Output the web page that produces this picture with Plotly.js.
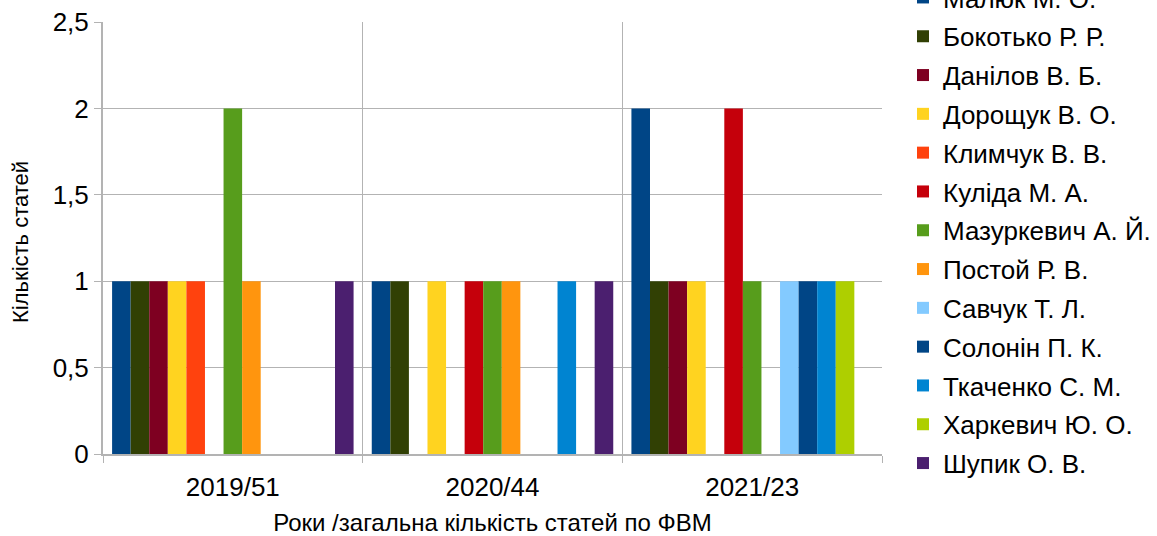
<!DOCTYPE html>
<html>
<head>
<meta charset="utf-8">
<script src="https://cdn.plot.ly/plotly-3.0.1.min.js"></script>
<style>html,body{margin:0;padding:0;background:#fff;}#chart{width:1157px;height:536px;}</style>
</head>
<body>
<div id="chart"></div>
<script>
const categories = ["2019/51", "2020/44", "2021/23"];
const seriesNames = ["Малюк М. О.", "Бокотько Р. Р.", "Данілов В. Б.", "Дорощук В. О.", "Климчук В. В.", "Куліда М. А.", "Мазуркевич А. Й.", "Постой Р. В.", "Савчук Т. Л.", "Солонін П. К.", "Ткаченко С. М.", "Харкевич Ю. О.", "Шупик О. В."];
const malyuk      = [1, 1, 2];
const bokotko     = [1, 1, 1];
const danilov     = [1, 0, 1];
const doroshchuk  = [1, 1, 1];
const klymchuk    = [1, 0, 0];
const kulida      = [0, 1, 2];
const mazurkevych = [2, 1, 1];
const postoi      = [1, 1, 0];
const savchuk     = [0, 0, 1];
const solonin     = [0, 0, 1];
const tkachenko   = [0, 1, 1];
const kharkevych  = [0, 0, 1];
const shupyk      = [1, 1, 0];
const seriesValues = [malyuk, bokotko, danilov, doroshchuk, klymchuk, kulida, mazurkevych, postoi, savchuk, solonin, tkachenko, kharkevych, shupyk];
const colors = ["#004586", "#314004", "#7e0021", "#ffd320", "#ff420e", "#c5000b", "#579d1c", "#ff950e", "#83caff", "#004586", "#0084d1", "#aecf00", "#4b1f6f"];
const yTicks = [0, 0.5, 1, 1.5, 2, 2.5];
const yTickText = ["0", "0,5", "1", "1,5", "2", "2,5"];
const yTitle = "Кількість статей";
const xTitle = "Роки /загальна кількість статей по ФВМ";

const FONT = "Liberation Sans, Arial, sans-serif";
const traces = seriesNames.map((name, i) => ({
  type: "bar",
  name: name,
  x: categories,
  y: seriesValues[i],
  legendgroup: "g" + i,
  marker: {color: colors[i], line: {width: 0}},
  hoverinfo: "x+y+name"
}));

const layout = {
  width: 1157, height: 536,
  margin: {l: 103, r: 275, t: 22, b: 82, pad: 0, autoexpand: false},
  paper_bgcolor: "#ffffff", plot_bgcolor: "#ffffff",
  font: {family: FONT, color: "#000000", size: 26},
  barmode: "group",
  bargap: 0.07,
  bargroupgap: 0,
  xaxis: {
    type: "category",
    tickson: "boundaries",
    ticks: "outside", ticklen: 7, tickcolor: "#b3b3b3",
    showgrid: true, gridcolor: "#b3b3b3", gridwidth: 1,
    showline: true, linecolor: "#b3b3b3", linewidth: 2,
    tickfont: {family: FONT, size: 26, color: "#000"},
    ticklabelstandoff: 9,
    title: {text: xTitle, font: {family: FONT, size: 24, color: "#000"}, standoff: 13},
    automargin: false
  },
  yaxis: {
    range: [0, 2.5],
    tickvals: yTicks, ticktext: yTickText,
    ticks: "outside", ticklen: 7, tickcolor: "#b3b3b3",
    showgrid: true, gridcolor: "#b3b3b3", gridwidth: 1,
    showline: true, linecolor: "#b3b3b3", linewidth: 2,
    zeroline: false,
    tickfont: {family: FONT, size: 26, color: "#000"},
    automargin: false
  },
  annotations: [{
    text: yTitle, textangle: -90, showarrow: false,
    xref: "paper", yref: "paper", x: (20 - 103) / 779, y: (454 - 242) / 432,
    xanchor: "center", yanchor: "middle",
    font: {family: FONT, size: 22, color: "#000"}
  }],
  showlegend: true,
  legend: {
    x: 903 / 1157, xref: "container", xanchor: "left",
    y: 1.111, yref: "paper", yanchor: "top",
    traceorder: "grouped",
    tracegroupgap: 2,
    font: {family: FONT, size: 26, color: "#000"},
    bgcolor: "rgba(0,0,0,0)",
    itemwidth: 30,
    maxheight: 3000
  }
};

Plotly.newPlot("chart", traces, layout, {displayModeBar: false, staticPlot: true});
</script>
</body>
</html>
